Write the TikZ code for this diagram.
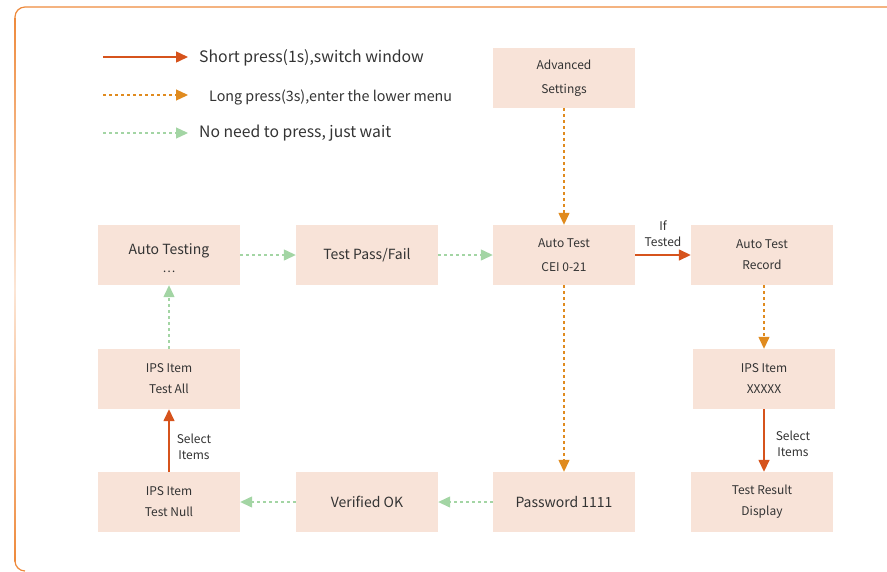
\documentclass[tikz,border=0pt]{standalone}
\usepackage{fontspec}
\setmainfont{Noto Sans CJK SC}
\usepackage{tikz}
\usetikzlibrary{arrows.meta}
\usepackage{xcolor}
\definecolor{boxfill}{HTML}{F8E3D8}
\definecolor{shortred}{HTML}{D6531C}
\definecolor{longorange}{HTML}{E08B1F}
\definecolor{waitgreen}{HTML}{A3D5A4}
\definecolor{frameorange}{HTML}{EE8A3C}
\definecolor{framelight}{HTML}{FCE6D6}
\definecolor{textgray}{HTML}{333333}
\tikzset{
  menubox/.style={fill=boxfill, minimum width=142pt, minimum height=60pt,
    inner sep=0pt, align=center, text=textgray, font=\fontsize{12}{21}\selectfont},
  bigbox/.style={menubox, font=\fontsize{14}{20}\selectfont},
  tip/.style={-{Triangle[length=12pt,width=11pt]}},
  shortpress/.style={tip, shortred, line width=1.5pt},
  longpress/.style={tip, longorange, line width=1.3pt, dash pattern=on 3pt off 3pt},
  justwait/.style={tip, waitgreen, line width=1.3pt, dash pattern=on 3pt off 3pt},
  steplabel/.style={text=textgray, font=\fontsize{12}{16}\selectfont, align=center, inner sep=2pt}
}

\begin{document}
\begin{tikzpicture}[x=1pt, y=-1pt]
\useasboundingbox (0,0) rectangle (887,571);
% frame
\draw [frameorange, line width=1.2pt] (887,7)--(25,7) arc (270:180:10);
\shade [top color=frameorange, bottom color=frameorange, middle color=framelight] (14.4,17) rectangle (15.6,561);
\draw [frameorange, line width=1.2pt] (15,561) arc (180:90:10);
% legend
\coordinate (s1) at (103,57); \coordinate (e1) at (188,57);
\coordinate (s2) at (103,95); \coordinate (e2) at (188,95);
\coordinate (s3) at (103,133); \coordinate (e3) at (188,133);
\draw [shortpress] (s1)--(e1);
\draw [longpress] (s2)--(e2);
\draw [justwait] (s3)--(e3);
\node [anchor=west, inner sep=0pt, text=textgray, font=\fontsize{15.8}{18}\selectfont] (shortlbl) at (199,58) {Short press(1s),switch window};
\node [anchor=west, inner sep=0pt, text=textgray, font=\fontsize{14.3}{18}\selectfont] (longlbl) at (209,97) {Long press(3s),enter the lower menu};
\node [anchor=west, inner sep=0pt, text=textgray, font=\fontsize{15.7}{18}\selectfont] (waitlbl) at (199,133) {No need to press, just wait};
% menu windows
\node [menubox] (adv) at (564,78) {Advanced\\[3pt]Settings};
\node [bigbox, text height=34pt, text depth=0pt] (testing) at (169,255) {Auto Testing\\[-2pt]\fontsize{12}{12}\selectfont …};
\node [bigbox] (passfail) at (367,255) {Test Pass/Fail};
\node [menubox] (autotest) at (564,255) {Auto Test\\[3pt]CEI 0-21};
\node [menubox] (record) at (762,255) {Auto Test\\Record};
\node [menubox] (testall) at (169,379) {IPS Item\\Test All};
\node [menubox] (xxxxx) at (764,379) {IPS Item\\XXXXX};
\node [menubox] (testnull) at (169,502) {IPS Item\\Test Null};
\node [bigbox] (verified) at (367,502) {Verified OK};
\node [bigbox] (password) at (564,502) {Password 1111};
\node [menubox] (result) at (762,502) {Test Result\\Display};
% connectors
\draw [longpress] (adv)--(autotest);
\draw [longpress] (autotest)--(password);
\draw [longpress] (record.south -| xxxxx)--(xxxxx);
\draw [shortpress] (autotest)--(record) node [steplabel, above, midway, yshift=6pt] {If\\Tested};
\draw [shortpress] (xxxxx)--(xxxxx |- result.north) node [steplabel, right, pos=0.55, xshift=9pt] {Select\\Items};
\draw [shortpress] (testnull)--(testall) node [steplabel, right, pos=0.4, xshift=5pt] {Select\\Items};
\draw [justwait] (testall)--(testing);
\draw [justwait] (testing)--(passfail);
\draw [justwait] (passfail)--(autotest);
\draw [justwait] (password)--(verified);
\draw [justwait] (verified)--(testnull);
\end{tikzpicture}
\end{document}
